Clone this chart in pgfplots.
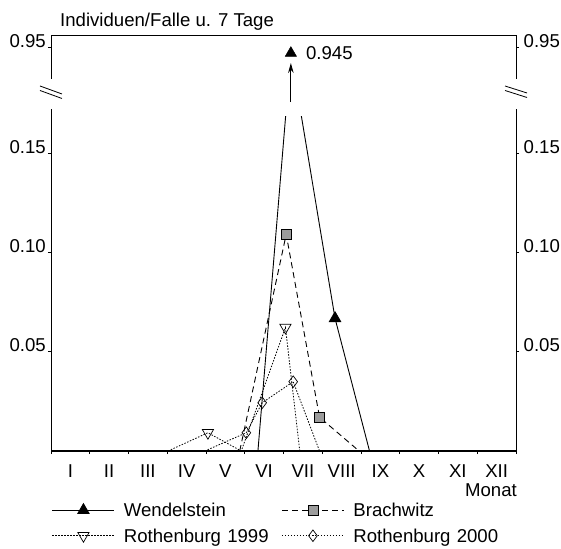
\documentclass[border=0pt]{standalone}
\usepackage{fontspec}
\setmainfont{Liberation Sans}
\usepackage{pgfplots}
\pgfplotsset{compat=1.18}
\usetikzlibrary{arrows.meta}
\newcommand\lf{\fontsize{18.6bp}{22bp}\selectfont}
\definecolor{sqgray}{HTML}{9C9C9C}

\begin{document}
\begin{tikzpicture}[font=\lf]
\begin{axis}[
  scale only axis, width=465bp, height=416bp,
  xmin=0, xmax=12, ymin=0, ymax=0.2095,
  clip=false,
  axis line style={line width=0.9bp},
  tick align=outside, major tick length=3bp,
  tick style={line width=0.8bp, black},
  xtick={0,...,12}, xticklabels={},
  extra x ticks={0.5,1.5,...,11.5},
  extra x tick labels={I,II,III,IV,V,VI,VII,VIII,IX,X,XI,XII},
  extra x tick style={major tick length=0pt},
  xticklabel style={font=\lf, anchor=base, inner sep=0pt, yshift=-26bp},
  xtick pos=left,
  ytick={0.05,0.10,0.15,0.2034},
  yticklabels={0.05,0.10,0.15,0.95},
  ytick pos=left,
  yticklabel style={font=\lf, anchor=base east, inner sep=0pt, xshift=-2bp},
  legend columns=2,
  legend style={at={(0,0)}, anchor=north west, xshift=1bp, yshift=-52bp,
    draw=none, fill=none, inner sep=0pt, outer sep=0pt,
    column sep=9bp, row sep=11bp, font=\lf, cells={anchor=west},
    nodes={inner sep=0pt, text height=13.5bp, text depth=1bp, text width=148.6bp, align=left}},
  legend image code/.code={
    \draw[#1, mark indices={2}] plot coordinates {(0bp,0bp) (31bp,0bp) (62bp,0bp)};
  },
]

% Wendelstein (peak 0.945 is drawn above the axis break)
\addplot[black, line width=0.9bp, mark=triangle*, mark size=6.5bp,
  mark options={solid, fill=black}, mark indices={3}]
  coordinates {(5.34,0) (6.19,0.2004) (7.33,0.0668) (8.22,0)};
\addlegendentry{Wendelstein}

% Brachwitz
\addplot[black, line width=0.9bp, dash pattern=on 6bp off 4bp, mark=square*, mark size=5bp,
  mark options={solid, fill=sqgray, line width=0.7bp}, mark indices={2,3}]
  coordinates {(4.87,0) (6.07,0.1091) (6.93,0.0170) (7.95,0)};
\addlegendentry{Brachwitz}

% Rothenburg 1999
\addplot[black, line width=0.8bp, dash pattern=on 1.5bp off 1.5bp, mark=triangle, mark size=6.5bp,
  mark options={solid, fill=white, rotate=180, line width=0.7bp}, mark indices={2,4}]
  coordinates {(3.02,0) (4.05,0.0092) (4.91,0) (6.05,0.0622) (6.42,0)};
\addlegendentry{Rothenburg 1999}

% Rothenburg 2000
\addplot[black, line width=0.8bp, dash pattern=on 1.5bp off 1.5bp, mark=diamond, mark size=5.8bp,
  mark options={solid, fill=white, line width=0.7bp}, mark indices={2,3,4}]
  coordinates {(3.97,0) (5.04,0.0092) (5.45,0.0243) (6.25,0.0349) (6.93,0)};
\addlegendentry{Rothenburg 2000}

% axis break: hide the Wendelstein lines above the break and open the side axes
\fill[white] (axis cs:5.85,0.1687) rectangle (axis cs:6.6,0.206);
\fill[white] (axis cs:-0.1,0.1722) rectangle (axis cs:0.1,0.1873);
\fill[white] (axis cs:11.9,0.1722) rectangle (axis cs:12.1,0.1873);
\draw[line width=0.8bp] ([shift={(-11bp,6bp)}]axis cs:0,0.1808) -- ++(22bp,-8bp);
\draw[line width=0.8bp] ([shift={(-11bp,1.5bp)}]axis cs:0,0.1808) -- ++(22bp,-8bp);
\draw[line width=0.8bp] ([shift={(-11bp,6bp)}]axis cs:12,0.1808) -- ++(22bp,-7bp);
\draw[line width=0.8bp] ([shift={(-11bp,1.5bp)}]axis cs:12,0.1808) -- ++(22bp,-7bp);
\draw[line width=1.4bp] (rel axis cs:0,0) -- (rel axis cs:1,0);

\draw[line width=0.9bp, -{Stealth[length=10bp,width=5.5bp]}] (axis cs:6.19,0.1757) -- (axis cs:6.19,0.1954);
\addplot[only marks, mark=triangle*, mark size=6.5bp, mark options={fill=black}, forget plot]
  coordinates {(6.19,0.2004)};
\node[anchor=base west, inner sep=0pt] at ([shift={(15bp,-6bp)}]axis cs:6.19,0.2004) {0.945};

\node[anchor=base west, inner sep=0pt] at ([shift={(9bp,8.3bp)}]rel axis cs:0,1) {Individuen/Falle u. 7 Tage};
\node[anchor=base east, inner sep=0pt] at ([shift={(1bp,-45bp)}]rel axis cs:1,0) {Monat};
\end{axis}

\begin{axis}[
  scale only axis, width=465bp, height=416bp,
  xmin=0, xmax=12, ymin=0, ymax=0.2095,
  axis x line=none, axis y line*=right,
  y axis line style={draw=none},
  tick align=outside, major tick length=3bp,
  tick style={line width=0.8bp, black},
  ytick={0.05,0.10,0.15,0.2034},
  yticklabels={0.05,0.10,0.15,0.95},
  yticklabel style={font=\lf, anchor=base west, inner sep=0pt, xshift=4.5bp},
]
\end{axis}

\pgfresetboundingbox
\path (-51bp,-98bp) rectangle (510bp,451bp);
\end{tikzpicture}
\end{document}
